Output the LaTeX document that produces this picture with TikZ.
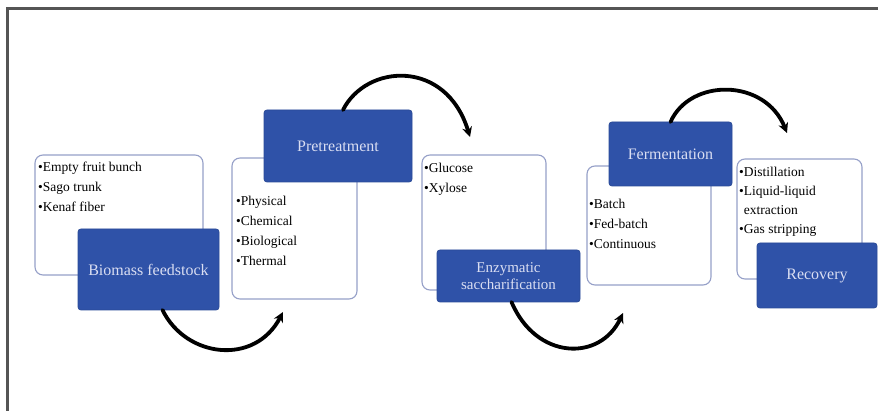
\documentclass[tikz,border=0pt]{standalone}
\usepackage{fontspec}
\setmainfont{Liberation Serif}
\usetikzlibrary{arrows.meta}

\definecolor{stageblue}{RGB}{47,82,168}
\definecolor{stagetext}{RGB}{218,222,242}
\definecolor{listedge}{RGB}{150,160,200}
\definecolor{framegray}{RGB}{85,85,85}

\tikzset{
  listbox/.style={draw=listedge, line width=1.1pt, fill=white, rounded corners=8pt,
    inner sep=0pt, outer sep=0pt},
  stagebox/.style={draw=stageblue!90!black, line width=0.8pt, fill=stageblue, rounded corners=3pt,
    inner sep=0pt, outer sep=0pt, text=stagetext, align=center,
    font=\fontsize{16}{18}\selectfont},
  listtext/.style={anchor=north west, inner sep=0pt, align=left,
    font=\fontsize{13.5}{20}\selectfont},
  flow/.style={line width=3.8pt, line cap=round, -{Stealth[length=10pt,width=10pt]}}
}

\begin{document}
\begin{tikzpicture}[x=1pt,y=-1pt]
  \useasboundingbox (0,0) rectangle (878,411);
  \fill[white] (0,0) rectangle (878,411);

  % outer frame (top and left edges)
  \draw[framegray, line width=3pt] (7,411) -- (7,8.5) -- (878,8.5);

  % end points of the curved flow arrows
  \coordinate (tipA) at (283,312);
  \coordinate (tipB) at (470,137);
  \coordinate (tipC) at (623,313);
  \coordinate (tipD) at (787,133);

  % list boxes
  \node[listbox, minimum width=168pt, minimum height=120pt] (l1) at (119,215) {};
  \node[listbox, minimum width=125pt, minimum height=141pt] (l2) at (294.5,228.5) {};
  \node[listbox, minimum width=124pt, minimum height=135pt] (l3) at (484,222.5) {};
  \node[listbox, minimum width=124pt, minimum height=119pt] (l4) at (649,225.5) {};
  \node[listbox, minimum width=125pt, minimum height=120pt] (l5) at (799.5,219) {};

  % list contents
  \node[listtext] (t1) at (38,162) {•Empty fruit bunch\\•Sago trunk\\•Kenaf fiber};
  \node[listtext] (t2) at (236,196) {•Physical\\•Chemical\\•Biological\\•Thermal};
  \node[listtext] (t3) at (424,163) {•Glucose\\•Xylose};
  \node[listtext] (t4) at (589,199) {•Batch\\•Fed-batch\\•Continuous};
  \node[listtext, font=\fontsize{13.5}{19}\selectfont] (t5) at (739,167)
    {•Distillation\\•Liquid-liquid\\\phantom{•}extraction\\•Gas stripping};

  % stage boxes
  \node[stagebox, minimum width=141pt, minimum height=81pt] (bio) at (148.5,269.5) {Biomass feedstock};
  \node[stagebox, minimum width=148pt, minimum height=72pt] (pre) at (338,146) {Pretreatment};
  \node[stagebox, minimum width=143pt, minimum height=52pt, font=\fontsize{15}{17}\selectfont]
    (enz) at (508.5,276) {Enzymatic\\saccharification};
  \node[stagebox, minimum width=123pt, minimum height=64pt] (fer) at (670.5,154) {Fermentation};
  \node[stagebox, minimum width=120pt, minimum height=65pt] (rec) at (817,275.5) {Recovery};

  % connectors between stages
  \draw[flow] ([xshift=14pt]bio.south) .. controls (186,358) and (255,366) .. (tipA);
  \draw[flow] ([xshift=5pt]pre.north) .. controls (366,64) and (446,58) .. (tipB);
  \draw[flow] ([xshift=3pt]enz.south) .. controls (536,360) and (600,362) .. (tipC);
  \draw[flow] (fer.north) .. controls (690,78) and (765,78) .. (tipD);
\end{tikzpicture}
\end{document}
